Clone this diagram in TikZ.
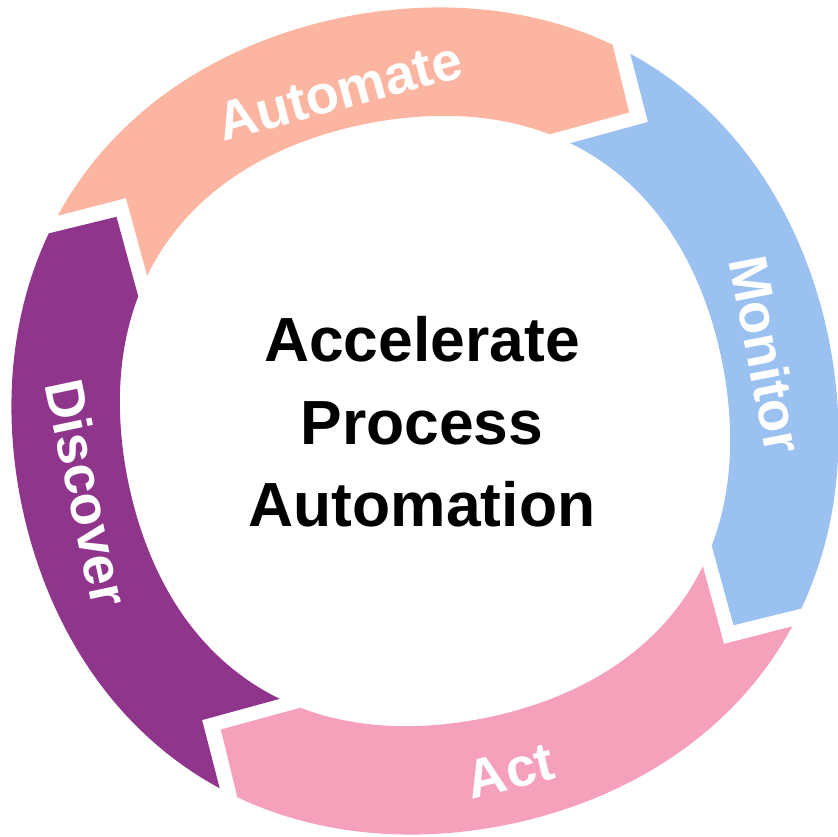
\documentclass[tikz,border=0pt]{standalone}
\usepackage{fontspec}
\setmainfont{Liberation Sans}
\definecolor{automatec}{RGB}{251,181,161}
\definecolor{monitorc}{RGB}{154,193,240}
\definecolor{actc}{RGB}{246,161,188}
\definecolor{discoverc}{RGB}{143,53,140}
\begin{document}
\begin{tikzpicture}[x=0.02cm,y=0.02cm,
  seglabel/.style={text=white,inner sep=0pt,font=\fontsize{31}{36}\selectfont\bfseries},
  declare function={rout(\t)=412+4.5*(1+cos(4*(\t-56.5)));
                    rin(\t)=303+5.5*(1+cos(4*(\t-56.5)));}]
  \useasboundingbox (-425,-415) rectangle (413,421);
  \foreach \a/\col in {146.5/automatec,56.5/monitorc,-33.5/actc,236.5/discoverc} {
    \pgfmathsetmacro\b{\a-90}
    \pgfmathsetmacro\ta{\a+4.3}
    \pgfmathsetmacro\tb{\b+7}
    \pgfmathsetmacro\ha{\b+10}
    \pgfmathsetmacro\hb{\a+5.9}
    \pgfmathsetmacro\nt{\a-3.2}
    \fill[\col] plot[domain=\ta:\tb,samples=60] (\x:{rout(\x)}) -- (\b:370)
      -- plot[domain=\ha:\hb,samples=60] (\x:{rin(\x)}) -- (\nt:373) -- cycle;
  }
  \node[seglabel,rotate=15] (automate) at (104.5:341) {Automate};
  \node[seglabel,rotate=-79] (monitor) at (11:348) {Monitor};
  \node[seglabel,rotate=13.7] (act) at (-76.3:360) {Act};
  \node[seglabel,rotate=-78] (discover) at (192:345) {Discover};
  \node[font=\fontsize{35.5}{47}\selectfont\bfseries,align=center] (title) at (-3,-1)
    {Accelerate\\Process\\Automation};
\end{tikzpicture}
\end{document}
